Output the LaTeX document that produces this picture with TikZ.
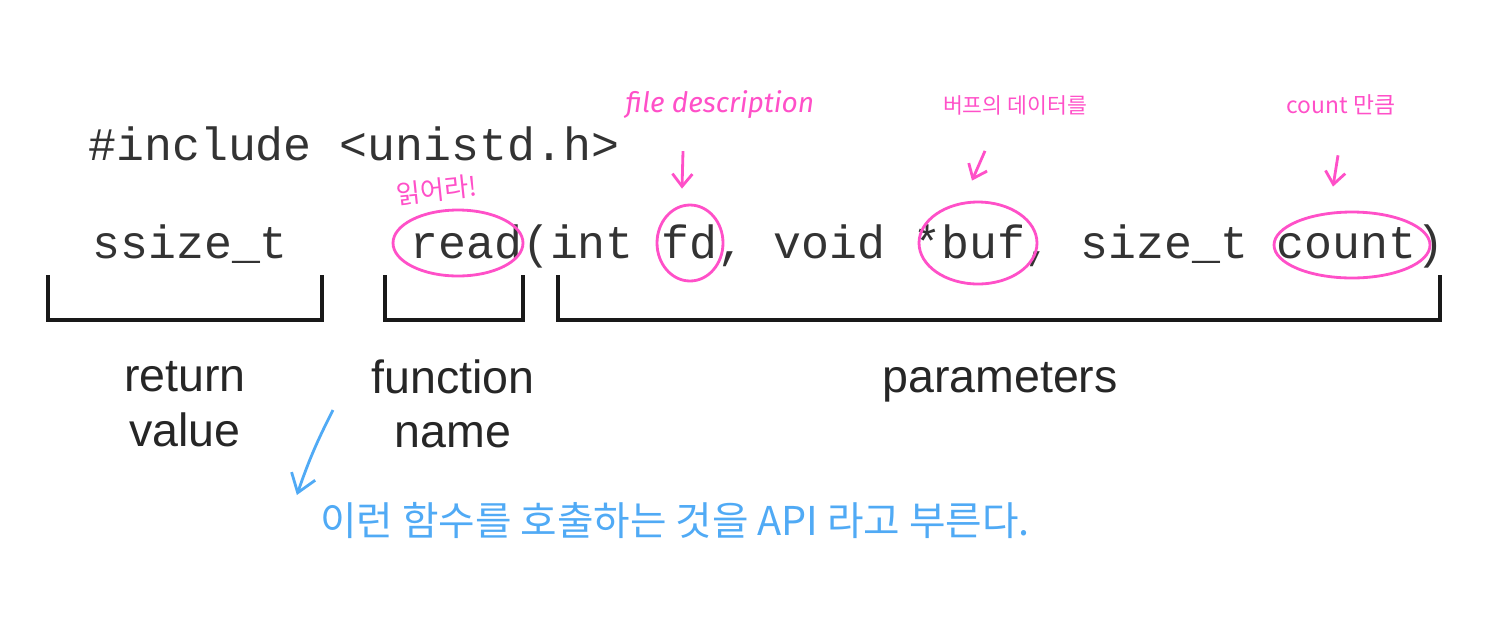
\documentclass[tikz,border=0pt]{standalone}
\usepackage{fontspec}
\setmainfont{Liberation Sans}
\setmonofont{Liberation Mono}
\newfontfamily\hangul{Noto Sans CJK KR}
\newfontfamily\scrawl{Fira Sans}
\usetikzlibrary{shapes,arrows.meta,positioning,calc}
\definecolor{memopink}{RGB}{255,80,200}
\definecolor{memoblue}{RGB}{80,170,245}

\begin{document}
\begin{tikzpicture}[x=0.02cm, y=-0.02cm]
    \tikzstyle{code} = [font=\ttfamily\fontsize{26.5}{30}\selectfont, text=black!80, inner sep=0pt, anchor=base west]
    \tikzstyle{label} = [font=\fontsize{26.5}{31}\selectfont, text=black!85, align=center, inner sep=0pt]
    \tikzstyle{bracket} = [draw=black!90, line width=2.8pt, line join=miter]
    \tikzstyle{circled} = [ellipse, draw=memopink, line width=1.6pt, inner sep=0pt]
    \tikzstyle{pinknote} = [text=memopink, inner sep=1pt]
    \tikzstyle{pinkarrow} = [draw=memopink, line width=1.6pt, -{Straight Barb[length=2.5mm, width=4mm]}]
    \tikzstyle{bluearrow} = [draw=memoblue, line width=1.6pt, -{Straight Barb[length=3.5mm, width=5mm]}]
    \useasboundingbox (0,0) rectangle (1500,623);

    % Code lines
    \node[code] (include) at (88,160) {\#include <unistd.h>};
    \node[code] (rettype) at (92,258) {ssize\_t};
    \node[code] (signature) at (410,258) {read(int fd, void *buf, size\_t count)};

    % Brackets
    \draw[bracket] (48,275) |- (322,320) -- (322,275);
    \draw[bracket] (385,275) |- (523,320) -- (523,275);
    \draw[bracket] (558,275) |- (1440,320) -- (1440,275);

    % Labels
    \node[label] (retlabel) at (185,404) {return\\value};
    \node[label] (funclabel) at (453,404) {function\\name};
    \node[label, anchor=base] (paramlabel) at (1000,392) {parameters};

    % Pink marks
    \node[circled, minimum width=2.6cm, minimum height=1.32cm] (readmark) at (458,243) {};
    \node[circled, minimum width=1.32cm, minimum height=1.52cm] (fdmark) at (690,243) {};
    \node[circled, minimum width=2.36cm, minimum height=1.64cm] (bufmark) at (978,243) {};
    \node[circled, minimum width=3.12cm, minimum height=1.32cm] (countmark) at (1352,245) {};

    % Pink notes
    \node[pinknote, font=\scrawl\itshape\fontsize{16}{19}\selectfont] (fdnote) at (720,105) {file description};
    \node[pinknote, font=\hangul\fontsize{12.3}{15}\selectfont] (bufnote) at (1015,105) {버프의 데이터를};
    \node[pinknote, font=\hangul\fontsize{13}{16}\selectfont] (countnote) at (1341,105) {count 만큼};
    \node[pinknote, font=\hangul\fontsize{15}{18}\selectfont, rotate=6] (readnote) at (437,190) {읽어라!};

    \draw[pinkarrow] ([shift={(-37,30)}]fdnote.south) -- ([shift={(-8,-15)}]fdmark.north);
    \draw[pinkarrow] ([shift={(-30,34)}]bufnote.south) -- ([shift={(-6,-20)}]bufmark.north);
    \draw[pinkarrow] ([shift={(-3,38)}]countnote.south) -- ([shift={(-19,-24)}]countmark.north);

    % Blue note
    \node[font=\hangul\fontsize{22.6}{27}\selectfont, text=memoblue] (apinote) at (675,520) {이런 함수를 호출하는 것을 API 라고 부른다.};
    \coordinate (apistart) at (333,410);
    \draw[bluearrow] (apistart) to[bend right=4] ([shift={(-17,-25)}]apinote.west);
\end{tikzpicture}
\end{document}
